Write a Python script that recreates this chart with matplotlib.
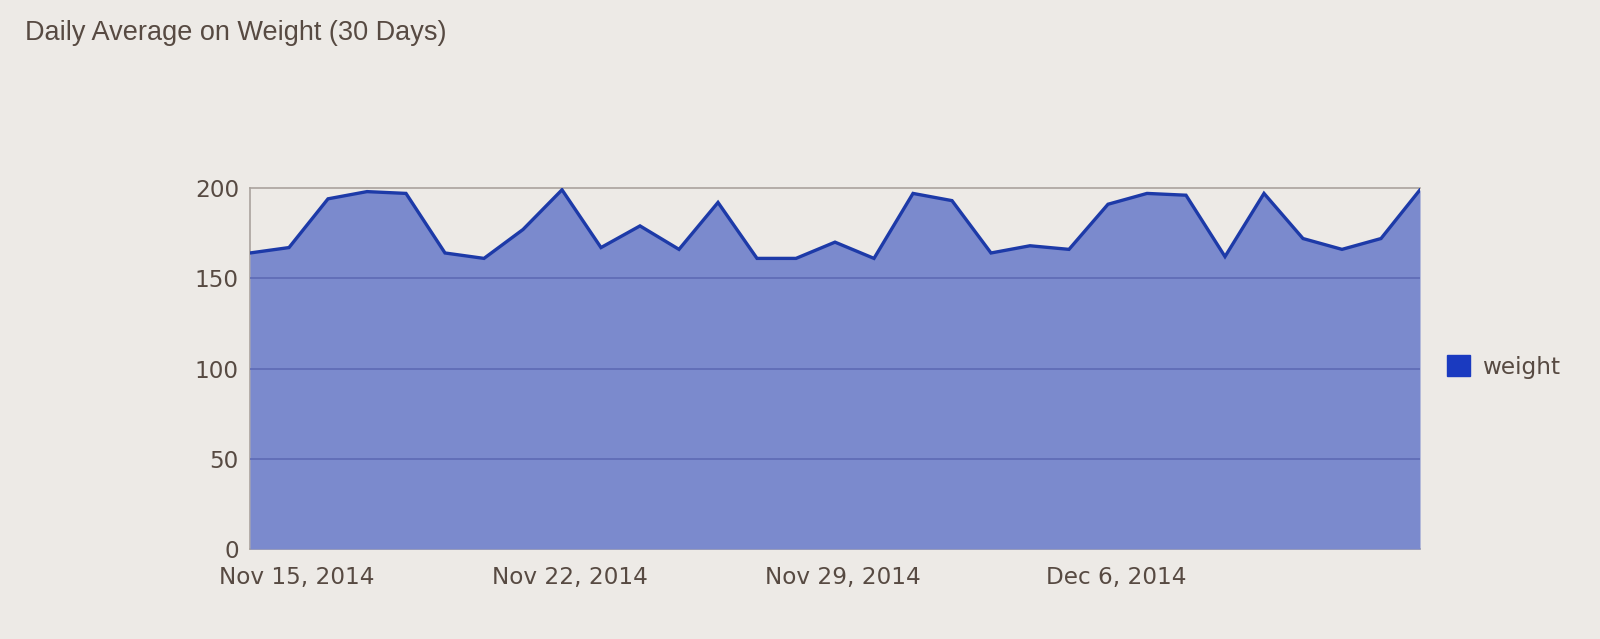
#!/usr/bin/env python3
"""
Daily average weight over 30 days, area chart
"""

import numpy as np
import pandas as pd
import matplotlib
matplotlib.use('Agg')
import matplotlib.pyplot as plt
import matplotlib.transforms as mtransforms
from matplotlib.patches import Patch

# data
dates = pd.date_range('2014-11-14', '2014-12-14', freq='D')
weight = [164, 167, 194, 198, 197, 164, 161, 177, 199, 167,
          179, 166, 192, 161, 161, 170, 161, 197, 193, 164,
          168, 166, 191, 197, 196, 162, 197, 172, 166, 172, 199]
tick_dates = ['2014-11-15', '2014-11-22', '2014-11-29', '2014-12-06']
tick_labels = ['Nov 15, 2014', 'Nov 22, 2014', 'Nov 29, 2014', 'Dec 6, 2014']
y_ticks = [0, 50, 100, 150, 200]

bg = '#edeae6'
text_col = '#574a42'
fill_col = '#7b8acd'
line_col = '#1d3aa8'

plt.rcParams['font.family'] = ['DejaVu Sans']

W, H = 1600, 639
fig = plt.figure(figsize=(W / 100, H / 100), dpi=100, facecolor=bg)
# plot box in pixels: left 250, right 1420, top 188, bottom 549
ax = fig.add_axes([250 / W, 1 - 549 / H, (1420 - 250) / W, (549 - 188) / H])
ax.set_facecolor(bg)

x = np.arange(len(dates))
ax.fill_between(x, 0, weight, color=fill_col, linewidth=0, zorder=1)
ax.plot(x, weight, color=line_col, linewidth=2.4, solid_joinstyle='miter', zorder=3)

# grid lines sit on top of the filled area
for yv in y_ticks[1:-1]:
	ax.axhline(yv, color='#5b68b2', linewidth=1.1, zorder=2)

ax.set_xlim(0, len(dates) - 1)
ax.set_ylim(0, 200)

pos = [list(dates).index(pd.Timestamp(d)) for d in tick_dates]
ax.set_xticks(pos)
ax.set_xticklabels(tick_labels)
ax.set_yticks(y_ticks)
ax.tick_params(axis='both', length=0, labelsize=16.7, labelcolor=text_col)
ax.tick_params(axis='y', pad=8)
ax.tick_params(axis='x', pad=12)

# date labels sit a little right of their tick in the original
shift = mtransforms.ScaledTranslation(8 / 100, 0, fig.dpi_scale_trans)
for lbl in ax.get_xticklabels():
	lbl.set_transform(lbl.get_transform() + shift)

for side, sp in ax.spines.items():
	sp.set_color('#aaa39d')
	sp.set_linewidth(1.2)
	sp.set_zorder(0.5)
ax.spines['right'].set_visible(False)

fig.text(25 / W, 1 - 33 / H, 'Daily Average on Weight (30 Days)',
		 fontsize=19.5, color=text_col, va='center', ha='left',
		 family=['Liberation Sans', 'DejaVu Sans'])

ax.legend(handles=[Patch(color='#1a3ac0', label='weight')],
		  loc='center left', bbox_to_anchor=(1447 / W, 1 - 367 / H),
		  bbox_transform=fig.transFigure, frameon=False, fontsize=16.7,
		  handlelength=1.0, handleheight=1.0, handletextpad=0.5,
		  borderpad=0, borderaxespad=0, labelcolor=text_col)

fig.savefig('out.png', dpi=100, facecolor=bg)
